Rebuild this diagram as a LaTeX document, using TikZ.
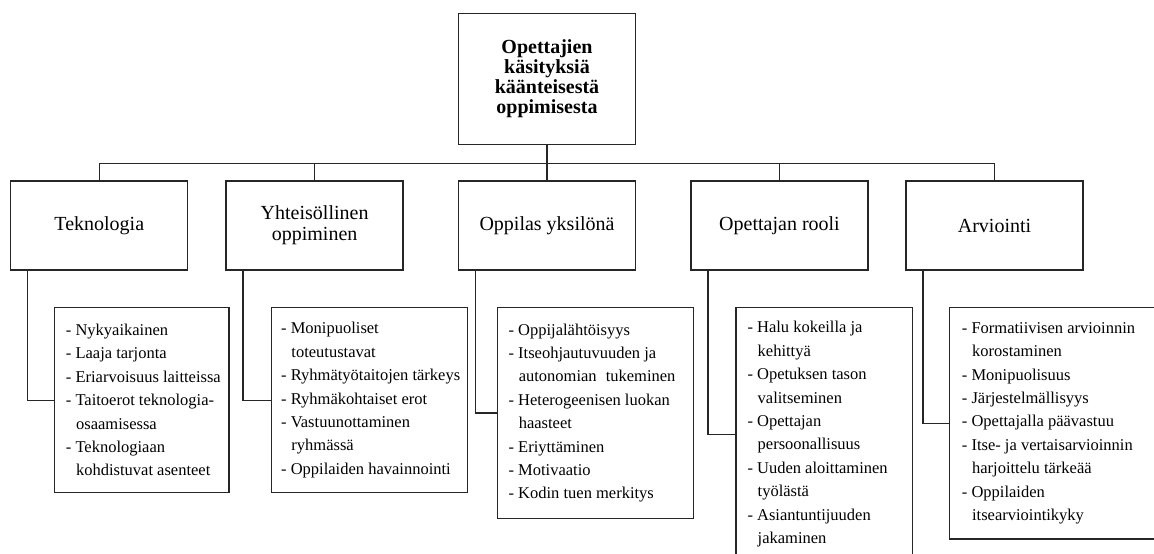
\documentclass[tikz,border=0pt]{standalone}
\usepackage{fontspec}
\setmainfont{Liberation Serif}
\newcommand{\ci}{\hspace*{0.62em}}
\begin{document}
\begin{tikzpicture}[x=1pt,y=-1pt,
  every node/.style={inner sep=0pt},
  line/.style={draw=black!85, line width=1.3pt},
  topbox/.style={draw=black!85, line width=1.3pt, minimum width=177pt, minimum height=131pt,
    align=center, font=\fontsize{20}{20}\selectfont\bfseries},
  catbox/.style={draw=black!85, line width=1.3pt, minimum width=177pt, minimum height=89pt,
    align=center, font=\fontsize{20}{21}\selectfont},
  listbox/.style={draw=black!85, line width=1.3pt, anchor=north west},
  listtext/.style={anchor=west, align=left, font=\fontsize{16.5}{23.4}\selectfont}
]
\useasboundingbox (0,0) rectangle (1154,554);
\clip (0,0) rectangle (1154,554);
\fill[white] (0,0) rectangle (1154,554);

% root and categories
\node[topbox] (root) at (547,78.8) {Opettajien\\käsityksiä\\käänteisestä\\oppimisesta};
\node[catbox] (tek) at (99.3,225.5) {Teknologia};
\node[catbox] (yht) at (314.6,225.5) {Yhteisöllinen\\oppiminen};
\node[catbox] (opp) at (547,225.5) {Oppilas yksilönä};
\node[catbox] (ope) at (779.5,225.5) {Opettajan rooli};
\node[catbox] (arv) at (994.5,225.5) {Arviointi};

% list boxes
\node[listbox, minimum width=174.3pt, minimum height=185pt] (tekl) at (54,307) {};
\node[listbox, minimum width=196pt, minimum height=185pt] (yhtl) at (270.7,307) {};
\node[listbox, minimum width=196pt, minimum height=210.7pt] (oppl) at (496.7,307) {};
\node[listbox, minimum width=176.7pt, minimum height=253pt] (opel) at (735.3,307) {};
\node[listbox, minimum width=215pt, minimum height=231.3pt] (arvl) at (948.7,307) {};

% list texts
\node[listtext] (tekt) at ([xshift=11.7pt]tekl.west) {- Nykyaikainen\\- Laaja tarjonta\\- Eriarvoisuus laitteissa\\- Taitoerot teknologia-\\\ci osaamisessa\\- Teknologiaan\\\ci kohdistuvat asenteet};
\node[listtext] (yhtt) at ([xshift=10.3pt]yhtl.west) {- Monipuoliset\\\ci toteutustavat\\- Ryhmätyötaitojen tärkeys\\- Ryhmäkohtaiset erot\\- Vastuunottaminen\\\ci ryhmässä\\- Oppilaiden havainnointi};
\node[listtext] (oppt) at ([xshift=11.7pt]oppl.west) {- Oppijalähtöisyys\\- Itseohjautuvuuden ja\\\ci autonomian\hspace{0.3em} tukeminen\\- Heterogeenisen luokan\\\ci haasteet\\- Eriyttäminen\\- Motivaatio\\- Kodin tuen merkitys};
\node[listtext] (opet) at ([xshift=12pt]opel.west) {- Halu kokeilla ja\\\ci kehittyä\\- Opetuksen tason\\\ci valitseminen\\- Opettajan\\\ci persoonallisuus\\- Uuden aloittaminen\\\ci työlästä\\- Asiantuntijuuden\\\ci jakaminen};
\node[listtext] (arvt) at ([xshift=13pt]arvl.west) {- Formatiivisen arvioinnin\\\ci korostaminen\\- Monipuolisuus\\- Järjestelmällisyys\\- Opettajalla päävastuu\\- Itse- ja vertaisarvioinnin\\\ci harjoittelu tärkeää\\- Oppilaiden\\\ci itsearviointikyky};

% top connectors
\coordinate (bus) at (547,163.3);
\draw[line] (root.south) -- (opp.north);
\draw[line] (tek.north) -- (tek.north |- bus) -- (arv.north |- bus) -- (arv.north);
\draw[line] (yht.north) -- (yht.north |- bus);
\draw[line] (ope.north) -- (ope.north |- bus);

% lower connectors
\draw[line] ([xshift=17.5pt]tek.south west) |- (tekl.west);
\draw[line] ([xshift=17.5pt]yht.south west) |- (yhtl.west);
\draw[line] ([xshift=17.5pt]opp.south west) |- (oppl.west);
\draw[line] ([xshift=17.5pt]ope.south west) |- (opel.west);
\draw[line] ([xshift=17.5pt]arv.south west) |- (arvl.west);
\end{tikzpicture}
\end{document}
